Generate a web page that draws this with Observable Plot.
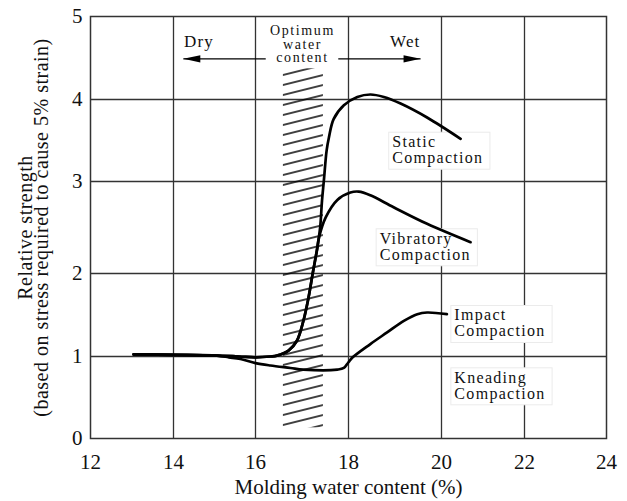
<!DOCTYPE html>
<html>
<head>
<meta charset="utf-8">
<script src="https://cdn.jsdelivr.net/npm/d3@7"></script>
<script src="https://cdn.jsdelivr.net/npm/@observablehq/plot@0.6"></script>
<style>
  html, body { margin: 0; padding: 0; background: #fff; }
  #chart svg { display: block; }
</style>
</head>
<body>
<div id="chart"></div>
<script>
// Axis ticks
const xTicks = [12, 14, 16, 18, 20, 22, 24];
const yTicks = [0, 1, 2, 3, 4, 5];

// Relative strength vs molding water content, one pair of arrays per compaction method
const staticX = [13.04, 14.0, 15.06, 15.6, 16.0, 16.32, 16.46, 16.71, 16.89, 17.03, 17.14, 17.23, 17.32, 17.39, 17.43, 17.47, 17.53, 17.58, 17.68, 17.90, 18.19, 18.47, 18.76, 19.12, 19.69, 20.46];
const staticY = [1.025, 1.02, 1.01, 1.0, 0.99, 1.0, 1.01, 1.07, 1.19, 1.43, 1.71, 2.0, 2.25, 2.50, 2.79, 3.01, 3.38, 3.54, 3.76, 3.93, 4.03, 4.06, 4.03, 3.95, 3.78, 3.52];

const vibratoryX = [13.04, 14.0, 15.06, 15.6, 16.0, 16.32, 16.46, 16.71, 16.89, 17.03, 17.14, 17.23, 17.32, 17.37, 17.51, 17.76, 18.04, 18.22, 18.47, 18.97, 19.69, 20.70];
const vibratoryY = [1.025, 1.02, 1.01, 1.0, 0.99, 1.0, 1.01, 1.07, 1.19, 1.43, 1.71, 2.0, 2.25, 2.40, 2.61, 2.80, 2.88, 2.89, 2.85, 2.72, 2.54, 2.34];

const impactX = [13.04, 14.0, 15.06, 15.35, 15.63, 16.0, 16.32, 16.75, 17.03, 17.76, 17.90, 18.0, 18.09, 18.47, 18.83, 19.19, 19.48, 19.69, 20.13];
const impactY = [1.025, 1.02, 1.01, 0.99, 0.97, 0.92, 0.89, 0.86, 0.84, 0.84, 0.86, 0.93, 0.99, 1.15, 1.29, 1.43, 1.51, 1.53, 1.51];

const series = [
  {name: "Static", xs: staticX, ys: staticY},
  {name: "Vibratory", xs: vibratoryX, ys: vibratoryY},
  {name: "Impact", xs: impactX, ys: impactY}
];
const curves = series.flatMap(s => s.xs.map((x, i) => ({series: s.name, x, y: s.ys[i]})));

// Curve labels (left edge, baseline of last line)
const curveLabels = [
  {text: "Static\nCompaction", x: 18.94, y: 3.223},
  {text: "Vibratory\nCompaction", x: 18.67, y: 2.149},
  {text: "Impact\nCompaction", x: 20.31, y: 1.241},
  {text: "Kneading\nCompaction", x: 20.31, y: 0.484}
];

// Dry / wet side annotations
const sideLabels = [
  {text: "Dry", x: 14.62, y: 4.63},
  {text: "Wet", x: 19.22, y: 4.63}
];
const optimumLabel = [{text: "Optimum\nwater\ncontent", x: 17.01, y: 4.449}];
const arrows = [
  {from: 16.22, to: 14.24, y: 4.49},
  {from: 17.78, to: 19.55, y: 4.49}
];

// Hatched band around the optimum water content
const optimumBand = [{x1: 16.6, x2: 17.46, y1: 0.13, y2: 4.37}];

const xTitle = "Molding water content (%)";
const yTitle = "Relative strength\n(based on stress required to cause 5% strain)";

// The grid of this diagram is hand-ruled: the middle cells are wider/taller.
// These warps stretch each axis cell by cell before Plot's linear scales.
const xWarp = d3.scaleLinear().domain(xTicks).range([0, 83, 165, 258, 351, 434, 516]);
const yWarp = d3.scaleLinear().domain(yTicks).range([0, 82, 165, 257, 339, 422]);

// Filled arrowheads (tip at the dot position)
const headLeft = {draw(ctx) { ctx.moveTo(0, 0); ctx.lineTo(17, -3.6); ctx.lineTo(17, 3.6); ctx.closePath(); }};
const headRight = {draw(ctx) { ctx.moveTo(0, 0); ctx.lineTo(-17, -3.6); ctx.lineTo(-17, 3.6); ctx.closePath(); }};

const ink = "#111";
const gridInk = "#333";

const plot = Plot.plot({
  width: 627,
  height: 501,
  marginLeft: 90,
  marginRight: 21,
  marginTop: 16,
  marginBottom: 63,
  style: {
    fontFamily: "'Liberation Serif', 'Times New Roman', serif",
    fontSize: "21px",
    color: ink,
    background: "#fff"
  },
  x: {type: "linear", domain: [0, 516], transform: xWarp, axis: null},
  y: {type: "linear", domain: [0, 422], transform: yWarp, axis: null},
  marks: [
    Plot.ruleX(xTicks.slice(1, -1), {stroke: gridInk, strokeWidth: 1.3}),
    Plot.ruleY(yTicks.slice(1, -1), {stroke: gridInk, strokeWidth: 1.3}),
    Plot.frame({stroke: gridInk, strokeWidth: 1.5}),
    Plot.rect(optimumBand, {x1: "x1", x2: "x2", y1: "y1", y2: "y2", fill: "url(#optimum-hatch)"}),
    Plot.line(curves, {x: "x", y: "y", z: "series", stroke: "#000", strokeWidth: 2.7, curve: "catmull-rom"}),
    Plot.link(arrows, {x1: "from", x2: "to", y1: "y", y2: "y", stroke: "#000", strokeWidth: 1.4}),
    Plot.dot(arrows.filter(d => d.to < d.from), {x: "to", y: "y", symbol: headLeft, r: 5, fill: "#000", stroke: "none"}),
    Plot.dot(arrows.filter(d => d.to > d.from), {x: "to", y: "y", symbol: headRight, r: 5, fill: "#000", stroke: "none"}),
    // tick labels
    Plot.text(xTicks, {x: d => d, text: d => String(d), frameAnchor: "bottom", dy: 30, textAnchor: "middle", lineAnchor: "bottom", fontSize: 21, fill: ink}),
    Plot.text(yTicks, {y: d => d, text: d => String(d), frameAnchor: "left", dx: -8, textAnchor: "end", lineAnchor: "middle", fontSize: 21, fill: ink}),
    // annotations
    Plot.text(sideLabels, {x: "x", y: "y", text: "text", textAnchor: "middle", lineAnchor: "bottom", fontSize: 17, fill: ink}),
    Plot.text(optimumLabel, {x: "x", y: "y", text: "text", textAnchor: "middle", lineAnchor: "bottom", lineHeight: 0.98, fontSize: 14, fill: ink}),
    Plot.text(curveLabels, {x: "x", y: "y", text: "text", textAnchor: "start", lineAnchor: "bottom", lineHeight: 1.0, fontSize: 16, fill: ink}),
    // axis titles
    Plot.text([xTitle], {text: d => d, frameAnchor: "bottom", dy: 55, textAnchor: "middle", lineAnchor: "bottom", fontSize: 21, fill: ink}),
    Plot.text([yTitle], {text: d => d, frameAnchor: "left", dx: -43, rotate: -90, textAnchor: "middle", lineAnchor: "bottom", lineHeight: 0.8, fontSize: 20, fill: ink})
  ]
});

document.getElementById("chart").appendChild(plot);

const svg = d3.select(plot);

// Diagonal hatching pattern for the optimum band
const pattern = svg.insert("defs", ":first-child")
  .append("pattern")
  .attr("id", "optimum-hatch")
  .attr("patternUnits", "userSpaceOnUse")
  .attr("width", 40)
  .attr("height", 10)
  .attr("patternTransform", "translate(283,0) skewY(-14)");
pattern.append("line")
  .attr("x1", -1).attr("x2", 41)
  .attr("y1", 5).attr("y2", 5)
  .attr("stroke", "#000")
  .attr("stroke-width", 1.45);

// Slightly spaced lettering for the annotations
const allText = svg.selectAll("text");
allText.filter(function () { return this.textContent.includes("Compaction"); })
  .attr("letter-spacing", "1.3px");
allText.filter(function () { return ["Dry", "Wet"].some(w => this.textContent.includes(w)); })
  .attr("letter-spacing", "1.1px");
allText.filter(function () { return this.textContent.includes("Optimum"); })
  .attr("letter-spacing", "1.6px");
allText.filter(function () { return this.textContent.includes("Relative"); })
  .attr("letter-spacing", "0.5px");

// White boxes behind the curve labels (above the grid, below the curves)
const svgRect = plot.getBoundingClientRect();
const boxes = [];
allText.filter(function () { return this.textContent.includes("Compaction"); }).each(function () {
  const r = this.getBoundingClientRect();
  boxes.push({
    x: r.left - svgRect.left - 3.5,
    y: r.top - svgRect.top - 1,
    w: r.width + 10,
    h: r.height + 3
  });
});
const band = svg.select('g[aria-label="rect"]').node();
const boxLayer = d3.create("svg:g").attr("aria-label", "label boxes");
boxLayer.selectAll("rect").data(boxes).join("rect")
  .attr("x", d => d.x).attr("y", d => d.y)
  .attr("width", d => d.w).attr("height", d => d.h)
  .attr("fill", "#fff")
  .attr("stroke", "#ebebeb")
  .attr("stroke-width", 1);
if (band) band.parentNode.insertBefore(boxLayer.node(), band);
</script>
</body>
</html>
